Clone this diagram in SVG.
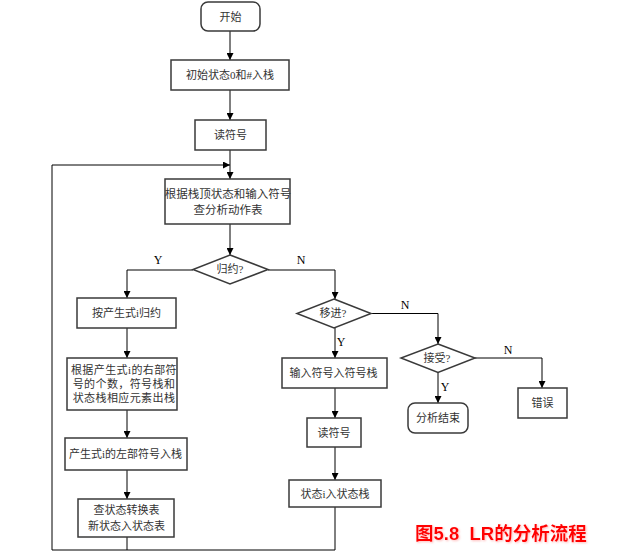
<svg xmlns="http://www.w3.org/2000/svg" width="622" height="559" viewBox="0 0 622 559">
<defs>
<marker id="ah" viewBox="0 0 8 8" refX="8" refY="4" markerWidth="7" markerHeight="7" markerUnits="userSpaceOnUse" orient="auto">
<path d="M0,0 L8,4 L0,8 Z" fill="#000"/>
</marker>
<filter id="sh" x="-5%" y="-20%" width="110%" height="140%">
<feGaussianBlur in="SourceAlpha" stdDeviation="0.8"/>
<feOffset dx="1" dy="1" result="b"/>
<feFlood flood-color="#ff9090" flood-opacity="0.6"/>
<feComposite in2="b" operator="in"/>
<feMerge><feMergeNode/><feMergeNode in="SourceGraphic"/></feMerge>
</filter>
</defs>
<style>
.b{fill:#fff;stroke:#3a3a3a;stroke-width:1.5}
.t{font-family:"Liberation Serif","Noto Sans CJK SC",serif;font-size:11px;fill:#333;text-anchor:middle;dominant-baseline:central}
.t12{font-size:11.5px}
.l{font-family:"Liberation Serif","Noto Sans CJK SC",serif;font-size:12px;fill:#000;text-anchor:middle;dominant-baseline:central}
.c{fill:none;stroke:#000;stroke-width:1}
.a{marker-end:url(#ah)}
</style>
<rect width="622" height="559" fill="#fff"/>
<g id="connectors">
<path class="c a" d="M230,31 V60"/>
<path class="c a" d="M230,90 V120"/>
<path class="c a" d="M230,150 V179"/>
<path class="c a" d="M230,224 V255"/>
<path class="c a" d="M193,270 H127 V298"/>
<path class="c a" d="M268,270 H335 V299"/>
<path class="c a" d="M127,328 V358"/>
<path class="c a" d="M127,410 V438"/>
<path class="c a" d="M127,470 V499"/>
<path class="c" d="M127,537 V550"/>
<path class="c a" d="M335,328 V358"/>
<path class="c a" d="M335,388 V418"/>
<path class="c a" d="M335,447 V480"/>
<path class="c" d="M335,507 V550"/>
<path class="c a" d="M371,313.5 H438 V344"/>
<path class="c a" d="M475,358 H542 V388"/>
<path class="c a" d="M438,372.5 V403"/>
<path class="c a" d="M335,550 H52 V165 H230"/>
</g>
<g id="labels">
<text class="l" x="158" y="260">Y</text>
<text class="l" x="301" y="260">N</text>
<text class="l" x="405" y="305">N</text>
<text class="l" x="341" y="342">Y</text>
<text class="l" x="508" y="350">N</text>
<text class="l" x="445" y="387">Y</text>
</g>
<g id="start"><rect class="b" x="201" y="2" width="59" height="29" rx="7"/><text class="t" x="230.5" y="16.5">开始</text></g>
<g id="init"><rect class="b" x="171" y="60" width="118" height="30"/><text class="t" x="230" y="75">初始状态0和#入栈</text></g>
<g id="read1"><rect class="b" x="195" y="120" width="71" height="30"/><text class="t" x="230.5" y="135">读符号</text></g>
<g id="lookup"><rect class="b" x="165" y="179" width="125" height="45"/><text class="t t12" x="228" y="194">根据栈顶状态和输入符号</text><text class="t t12" x="228" y="210">查分析动作表</text></g>
<g id="reduceq"><path class="b" d="M230,255 L268,269.5 L230,284 L193,269.5 Z"/><text class="t" x="230" y="268.5">归约?</text></g>
<g id="reduce"><rect class="b" x="77" y="298" width="99" height="30"/><text class="t" x="126.5" y="313">按产生式i归约</text></g>
<g id="pop"><rect class="b" x="67" y="358" width="110" height="52"/><text class="t" x="124" y="370" letter-spacing="0.4">根据产生式i的右部符</text><text class="t" x="124" y="384" letter-spacing="0.4">号的个数，符号栈和</text><text class="t" x="124" y="398" letter-spacing="0.4">状态栈相应元素出栈</text></g>
<g id="pushleft"><rect class="b" x="65" y="438" width="122" height="32"/><text class="t" x="125.5" y="454">产生式i的左部符号入栈</text></g>
<g id="goto"><rect class="b" x="78" y="499" width="96" height="38"/><text class="t" x="126.5" y="510">查状态转换表</text><text class="t" x="126.5" y="526">新状态入状态表</text></g>
<g id="shiftq"><path class="b" d="M334,299 L371,313.5 L334,328 L297,313.5 Z"/><text class="t" x="333" y="313">移进?</text></g>
<g id="pushsym"><rect class="b" x="282" y="358" width="105" height="30"/><text class="t" x="333.5" y="373">输入符号入符号栈</text></g>
<g id="read2"><rect class="b" x="307" y="418" width="54" height="29"/><text class="t" x="334" y="432.5">读符号</text></g>
<g id="pushstate"><rect class="b" x="289" y="480" width="92" height="27"/><text class="t" x="335" y="493.5">状态i入状态栈</text></g>
<g id="acceptq"><path class="b" d="M438,344 L475,358 L438,372.5 L401,358 Z"/><text class="t" x="437" y="358">接受?</text></g>
<g id="done"><rect class="b" x="408" y="403" width="60" height="30" rx="7"/><text class="t" x="438" y="418">分析结束</text></g>
<g id="error"><rect class="b" x="518" y="388" width="49" height="30"/><text class="t" x="542.5" y="403">错误</text></g>
<text x="415" y="540" filter="url(#sh)" style="font-family:'Liberation Sans','Noto Sans CJK SC',sans-serif;font-size:18.5px;font-weight:bold;fill:#ff0000" xml:space="preserve">图5.8  LR的分析流程</text>
</svg>
